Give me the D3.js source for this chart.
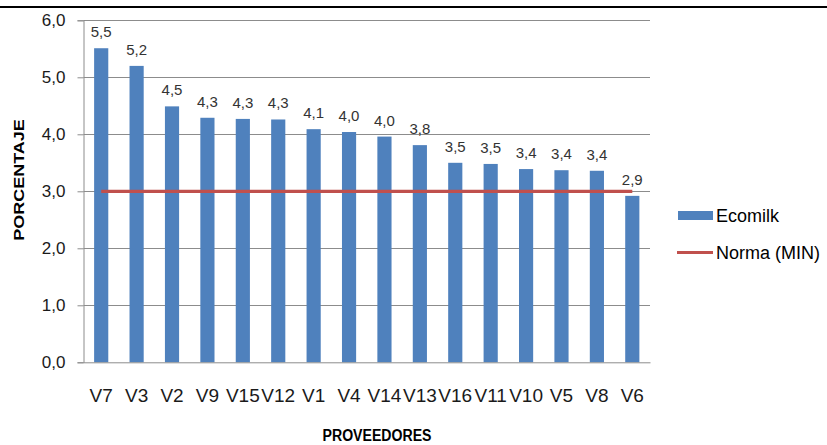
<!DOCTYPE html>
<html>
<head>
<meta charset="utf-8">
<script src="https://cdn.jsdelivr.net/npm/d3@7"></script>
<style>
  html, body { margin: 0; padding: 0; background: #fff; }
  svg { display: block; font-family: "Liberation Sans", Arial, sans-serif; }
</style>
</head>
<body>
<svg id="chart" width="827" height="445"></svg>
<script>
// Proveedores ordered by fat percentage (Ecomilk reading)
const categories = ["V7","V3","V2","V9","V15","V12","V1","V4","V14","V13","V16","V11","V10","V5","V8","V6"];
const ecomilk    = [5.51, 5.20, 4.49, 4.29, 4.27, 4.26, 4.09, 4.04, 3.96, 3.81, 3.50, 3.48, 3.39, 3.37, 3.36, 2.92];
const normaMin   = [3.0, 3.0, 3.0, 3.0, 3.0, 3.0, 3.0, 3.0, 3.0, 3.0, 3.0, 3.0, 3.0, 3.0, 3.0, 3.0];
const yTicks     = [0, 1, 2, 3, 4, 5, 6];
const seriesNames = ["Ecomilk", "Norma (MIN)"];

const svg = d3.select("#chart");
const plot = { left: 83.5, right: 650, top: 20.3, bottom: 362.3 };
const FONT = "'Liberation Sans', Arial, sans-serif";

const x = d3.scaleBand().domain(categories).range([plot.left, plot.right]).paddingInner(0.6).paddingOuter(0.3);
const y = d3.scaleLinear().domain([0, 6]).range([plot.bottom, plot.top]);
const fmt = v => d3.format(".1f")(v).replace(".", ",");

// top rule
svg.append("line").attr("x1", 0).attr("x2", 827).attr("y1", 7).attr("y2", 7)
  .attr("stroke", "#000").attr("stroke-width", 2.2);

// horizontal gridlines
svg.append("g").selectAll("line").data(yTicks.filter(t => t > 0)).join("line")
  .attr("x1", plot.left).attr("x2", plot.right)
  .attr("y1", d => Math.round(y(d)) + 0.5).attr("y2", d => Math.round(y(d)) + 0.5)
  .attr("stroke", "#8c8c8c").attr("stroke-width", 1);

// y axis
const yAxis = svg.append("g").attr("transform", `translate(${plot.left},0)`)
  .call(d3.axisLeft(y).tickValues(yTicks).tickFormat(fmt).tickSize(6).tickPadding(12));
yAxis.attr("font-family", FONT);
yAxis.select(".domain").attr("stroke", "#8c8c8c");
yAxis.selectAll(".tick line").attr("stroke", "#8c8c8c");
yAxis.selectAll(".tick text").attr("font-size", 17).attr("fill", "#1a1a1a");

// bars
svg.append("g").selectAll("rect").data(ecomilk).join("rect")
  .attr("x", (d, i) => x(categories[i]))
  .attr("width", x.bandwidth())
  .attr("y", d => y(d))
  .attr("height", d => y(0) - y(d))
  .attr("fill", "#4f81bd");

// x axis (baseline + labels)
const xAxis = svg.append("g").attr("transform", `translate(0,${plot.bottom})`)
  .call(d3.axisBottom(x).tickSize(0).tickPadding(26));
xAxis.attr("font-family", FONT);
xAxis.select(".domain").attr("stroke", "#8c8c8c");
xAxis.selectAll(".tick text").attr("font-size", 19).attr("fill", "#1a1a1a");

// minimum norm line
const line = d3.line().x((d, i) => x(categories[i]) + x.bandwidth() / 2).y(d => y(d));
svg.append("path").datum(normaMin).attr("d", line)
  .attr("fill", "none").attr("stroke", "#c0504d").attr("stroke-width", 3.2);

// value labels
svg.append("g").selectAll("text").data(ecomilk).join("text")
  .attr("x", (d, i) => x(categories[i]) + x.bandwidth() / 2)
  .attr("y", d => y(d) - 11)
  .attr("text-anchor", "middle")
  .attr("font-size", 15).attr("fill", "#333")
  .text(d => fmt(d));

// axis titles
svg.append("text").attr("transform", "translate(377,441) scale(0.83,1)").attr("text-anchor", "middle")
  .attr("font-size", 17).attr("font-weight", "bold").attr("fill", "#000")
  .text("PROVEEDORES");
svg.append("text").attr("transform", "translate(23.5,180) rotate(-90) scale(1,0.85)").attr("text-anchor", "middle")
  .attr("font-size", 18).attr("font-weight", "bold").attr("fill", "#000")
  .text("PORCENTAJE");

// legend
const lg = svg.append("g");
lg.append("rect").attr("x", 678).attr("y", 211).attr("width", 35).attr("height", 9).attr("fill", "#4f81bd");
lg.append("line").attr("x1", 677).attr("x2", 713).attr("y1", 252.5).attr("y2", 252.5)
  .attr("stroke", "#c0504d").attr("stroke-width", 3.2);
lg.selectAll("text").data(seriesNames).join("text")
  .attr("x", 716).attr("y", (d, i) => 222 + i * 37)
  .attr("font-size", 18).attr("fill", "#000")
  .text(d => d);
</script>
</body>
</html>
